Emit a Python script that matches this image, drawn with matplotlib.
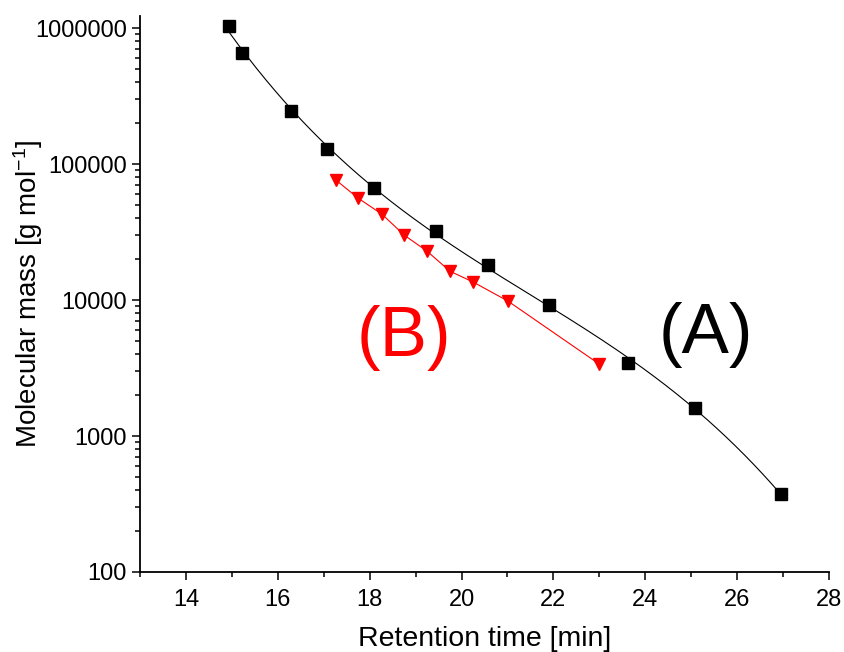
import numpy as np
import matplotlib
matplotlib.use('Agg')
import matplotlib.pyplot as plt
from matplotlib.ticker import FixedLocator, LogLocator, FuncFormatter, MultipleLocator, NullFormatter

plt.rcParams['font.family'] = ['Liberation Sans', 'DejaVu Sans']
plt.rcParams['mathtext.fontset'] = 'custom'
plt.rcParams['mathtext.rm'] = 'Liberation Sans'
plt.rcParams['mathtext.default'] = 'regular'

# calibration standards (A)
time_a = [14.94, 15.22, 16.29, 17.07, 18.09, 19.44, 20.58, 21.90, 23.62, 25.08, 26.96]
mass_a = [1030000, 655000, 245000, 129000, 66700, 32100, 18100, 9200, 3440, 1610, 375]

# series (B)
time_b = [17.27, 17.75, 18.27, 18.75, 19.25, 19.75, 20.25, 21.01, 23.00]
mass_b = [76200, 56200, 42800, 30100, 22900, 16300, 13600, 9840, 3380]

x_ticks = [14, 16, 18, 20, 22, 24, 26, 28]
y_ticks = [100, 1000, 10000, 100000, 1000000]

fig = plt.figure(figsize=(8.45, 6.52), dpi=100)
ax = fig.add_axes([140 / 845, 1 - 572 / 652, (829 - 140) / 845, (572 - 16) / 652])

# cubic fit of log M vs retention time for the calibration curve
coef = np.polyfit(time_a, np.log10(mass_a), 3)
tt = np.linspace(min(time_a), max(time_a), 300)
ax.plot(tt, 10 ** np.polyval(coef, tt), color='black', lw=0.8, zorder=2)
ax.plot(time_a, mass_a, 's', color='black', ms=8, zorder=3)

ax.plot(time_b, mass_b, color='red', lw=0.8, marker='v', ms=9, zorder=3)

ax.text(404, 652 - 338, '(B)', color='red', fontsize=51, ha='center', va='center',
        transform=None)
ax.text(706, 652 - 335, '(A)', color='black', fontsize=51, ha='center', va='center',
        transform=None)

ax.set_yscale('log')
ax.set_xlim(13, 28)
ax.set_ylim(100, 10 ** 6.09)
ax.xaxis.set_major_locator(FixedLocator(x_ticks))
ax.xaxis.set_minor_locator(MultipleLocator(1))
ax.yaxis.set_major_locator(FixedLocator(y_ticks))
ax.yaxis.set_minor_locator(LogLocator(base=10, subs=np.arange(2, 10)))
ax.yaxis.set_major_formatter(FuncFormatter(lambda v, p: '%d' % round(v)))
ax.yaxis.set_minor_formatter(NullFormatter())

for side in ['top', 'right']:
    ax.spines[side].set_visible(False)
for side in ['left', 'bottom']:
    ax.spines[side].set_linewidth(1.3)

ax.tick_params(which='major', direction='out', length=6, width=1.1, labelsize=17, pad=3.5)
ax.tick_params(axis='x', which='major', pad=6)
ax.tick_params(which='minor', direction='out', length=3.5, width=1.1)

ax.set_xlabel('Retention time [min]', fontsize=20.5, labelpad=11)
ax.set_ylabel('Molecular mass [g mol$^{-1}$]', fontsize=20, va='center')
ax.yaxis.set_label_coords((28 - 140) / 689, 0.5)

fig.savefig('out.png', dpi=100)
